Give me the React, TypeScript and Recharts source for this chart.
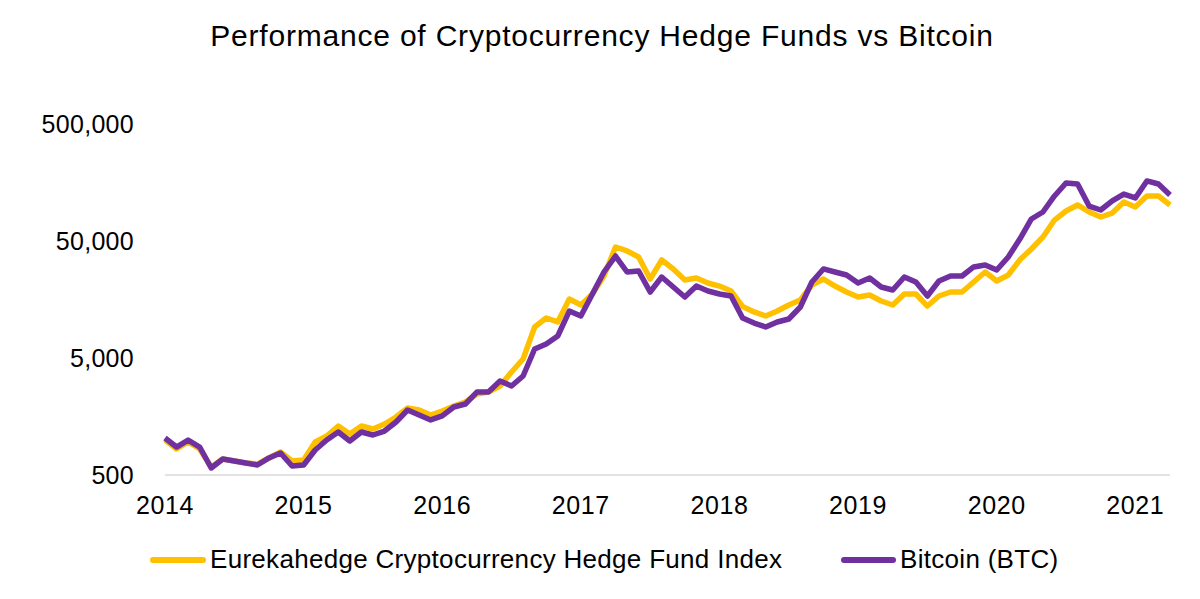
import { LineChart, Line, XAxis, YAxis } from "recharts";

// monthly index values, Jan 2014 .. Apr 2021 (log scale)
const eurekahedge = [
  1000, 834, 957, 834, 585, 685, 659, 633, 621, 699, 786, 659,
  672, 957, 1077, 1312, 1121, 1312, 1237, 1364, 1566, 1869, 1797, 1629,
  1762, 1945, 2103, 2461, 2559, 2883, 3796, 4900, 9200, 10990, 10160, 15960,
  14190, 17620, 25100, 44440, 41100, 36500, 23670, 34400, 28840, 23200, 24130, 21880,
  20600, 18700, 13800, 12370, 11430, 12600, 14190, 15670, 21030, 23670, 20600, 18320,
  16600, 17270, 15350, 14190, 17620, 17620, 13900, 16930, 18320, 18320, 22300, 27170,
  22750, 25600, 34500, 42700, 54100, 75500, 90200, 101600, 88500, 80200, 86700, 107700,
  97700, 121300, 121300, 101600,
];

const bitcoin = [
  1035, 867, 995, 867, 574, 685, 659, 633, 609, 699, 771, 597,
  609, 818, 995, 1166, 977, 1166, 1099, 1188, 1419, 1797, 1629, 1477,
  1600, 1906, 2022, 2559, 2559, 3178, 2883, 3508, 5970, 6590, 7710, 12600,
  11430, 17620, 27170, 37200, 27170, 27700, 18320, 24600, 20220, 16600, 20600, 18700,
  17620, 16930, 11000, 9950, 9200, 10160, 10770, 13640, 22300, 28840, 27170, 25600,
  21880, 24130, 20220, 19060, 24600, 22300, 16930, 22750, 25100, 25100, 30000, 31170,
  28270, 36500, 52000, 77100, 88500, 121300, 156700, 153500, 99500, 92000, 110000, 126000,
  116700, 163000, 153500, 123600,
];

const yearTicks = [2014, 2015, 2016, 2017, 2018, 2019, 2020, 2021];
const valueTicks = [500, 5000, 50000, 500000];

const FIRST_YEAR = 2014;
const FONT = "'Liberation Sans', Arial, sans-serif";
const YELLOW = "#FFC000";
const PURPLE = "#7030A0";

const data = bitcoin.map((btc, i) => ({ month: i, eh: eurekahedge[i], btc }));

export default function App() {
  return (
    <div style={{ position: "absolute", left: 0, top: 0, width: 1200, height: 599, background: "#fff", fontFamily: FONT }}>
      <div
        style={{
          position: "absolute",
          left: 0,
          width: 1204,
          top: 19,
          textAlign: "center",
          fontSize: 30,
          letterSpacing: 0.8,
          color: "#000",
        }}
      >
        Performance of Cryptocurrency Hedge Funds vs Bitcoin
      </div>

      <LineChart width={1200} height={599} data={data} margin={{ top: 124, right: 30, bottom: 94, left: 0 }}>
        <XAxis
          dataKey="month"
          type="number"
          domain={[0, eurekahedge.length - 1]}
          ticks={yearTicks.map((y) => (y - FIRST_YEAR) * 12)}
          tickFormatter={(v: number) => String(FIRST_YEAR + v / 12)}
          height={30}
          tickLine={false}
          tickSize={0}
          tickMargin={21}
          axisLine={{ stroke: "#D9D9D9", strokeWidth: 1.5 }}
          tick={{ fontSize: 25, fill: "#000", fontFamily: FONT, letterSpacing: 0.6 }}
        />
        <YAxis
          type="number"
          scale="log"
          domain={[500, 500000]}
          ticks={valueTicks}
          allowDataOverflow
          width={165}
          tickLine={false}
          axisLine={false}
          tickSize={0}
          tickMargin={31}
          tickFormatter={(v: number) => v.toLocaleString("en-US")}
          tick={{ fontSize: 25, fill: "#000", fontFamily: FONT, letterSpacing: 0.3 }}
        />
        <Line
          type="linear"
          dataKey="eh"
          stroke={YELLOW}
          strokeWidth={5.5}
          strokeLinejoin="round"
          dot={false}
          isAnimationActive={false}
        />
        <Line
          type="linear"
          dataKey="btc"
          stroke={PURPLE}
          strokeWidth={5.5}
          strokeLinejoin="round"
          dot={false}
          isAnimationActive={false}
        />
      </LineChart>

      <svg width={1200} height={50} style={{ position: "absolute", left: 0, top: 535 }}>
        <line x1={153} x2={203} y1={25} y2={25} stroke={YELLOW} strokeWidth={6} strokeLinecap="round" />
        <text x={210} y={33} fontSize={26} fontFamily={FONT} fill="#000" letterSpacing={0.3}>
          Eurekahedge Cryptocurrency Hedge Fund Index
        </text>
        <line x1={844} x2={893} y1={25} y2={25} stroke={PURPLE} strokeWidth={6} strokeLinecap="round" />
        <text x={900} y={33} fontSize={26} fontFamily={FONT} fill="#000" letterSpacing={0.3}>
          Bitcoin (BTC)
        </text>
      </svg>
    </div>
  );
}
